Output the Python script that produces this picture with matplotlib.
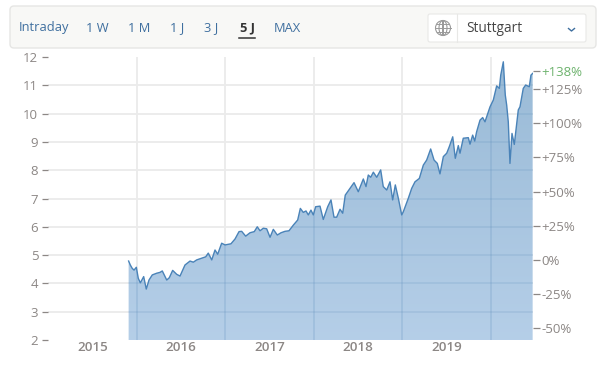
import matplotlib
matplotlib.use('Agg')
import matplotlib.pyplot as plt
import numpy as np
from matplotlib.patches import FancyBboxPatch, Ellipse
from matplotlib.lines import Line2D
from matplotlib.transforms import IdentityTransform

W, H = 599, 379

dates = [2015.91, 2015.929, 2015.951, 2015.971, 2015.997, 2016.019, 2016.042, 2016.08, 2016.109, 2016.14,
         2016.177, 2016.227, 2016.264, 2016.29, 2016.34, 2016.369, 2016.407, 2016.453, 2016.49, 2016.546,
         2016.603, 2016.64, 2016.678, 2016.735, 2016.78, 2016.809, 2016.848, 2016.885, 2016.915, 2016.96,
         2016.998, 2017.065, 2017.111, 2017.156, 2017.186, 2017.231, 2017.28, 2017.328, 2017.362, 2017.393,
         2017.43, 2017.468, 2017.506, 2017.543, 2017.588, 2017.63, 2017.675, 2017.72, 2017.769, 2017.818,
         2017.848, 2017.881, 2017.912, 2017.938, 2017.968, 2017.994, 2018.021, 2018.07, 2018.107, 2018.157,
         2018.194, 2018.228, 2018.258, 2018.296, 2018.326, 2018.355, 2018.409, 2018.454, 2018.502, 2018.559,
         2018.589, 2018.615, 2018.642, 2018.672, 2018.71, 2018.755, 2018.784, 2018.823, 2018.86, 2018.89,
         2018.92, 2018.954, 2018.992, 2019.01, 2019.067, 2019.105, 2019.142, 2019.191, 2019.236, 2019.274,
         2019.319, 2019.357, 2019.394, 2019.424, 2019.462, 2019.5, 2019.529, 2019.568, 2019.597, 2019.631,
         2019.65, 2019.687, 2019.744, 2019.763, 2019.793, 2019.816, 2019.838, 2019.876, 2019.906, 2019.932,
         2019.989, 2020.026, 2020.064, 2020.094, 2020.11, 2020.139, 2020.161, 2020.177, 2020.195, 2020.214,
         2020.237, 2020.263, 2020.308, 2020.327, 2020.364, 2020.391, 2020.432, 2020.451, 2020.47]
prices = [4.79, 4.65, 4.53, 4.47, 4.57, 4.18, 4.02, 4.24, 3.8, 4.12,
          4.3, 4.36, 4.39, 4.44, 4.12, 4.2, 4.46, 4.32, 4.26, 4.65,
          4.79, 4.75, 4.83, 4.89, 4.94, 5.07, 4.83, 5.18, 5.03, 5.42,
          5.36, 5.4, 5.57, 5.83, 5.84, 5.67, 5.79, 5.83, 6.0, 5.86,
          5.95, 5.93, 5.63, 5.91, 5.71, 5.79, 5.84, 5.86, 6.06, 6.24,
          6.65, 6.51, 6.56, 6.42, 6.59, 6.42, 6.71, 6.73, 6.26, 6.71,
          6.95, 6.34, 6.34, 6.62, 6.48, 7.12, 7.36, 7.56, 7.24, 7.69,
          7.42, 7.83, 7.75, 7.93, 7.75, 8.01, 7.42, 7.3, 7.59, 6.95,
          7.48, 7.01, 6.42, 6.53, 7.01, 7.36, 7.59, 7.71, 8.18, 8.36,
          8.75, 8.36, 8.24, 7.87, 8.48, 8.6, 8.83, 9.18, 8.42, 8.87,
          8.6, 9.13, 9.15, 8.92, 9.24, 9.03, 9.36, 9.77, 9.86, 9.71,
          10.24, 10.48, 10.98, 10.89, 11.36, 11.83, 10.66, 10.3, 9.71, 8.24,
          9.3, 8.91, 10.13, 10.24, 10.89, 11.01, 10.95, 11.36, 11.42]

y_ticks = [2, 3, 4, 5, 6, 7, 8, 9, 10, 11, 12]
grid_years = [2016, 2017, 2018, 2019, 2020]
year_labels = ['2015', '2016', '2017', '2018', '2019']
pct_ticks = [-50, -25, 0, 25, 50, 75, 100, 125]
last_pct = 138
base_price = 4.83
buttons = ['Intraday', '1 W', '1 M', '1 J', '3 J', '5 J', 'MAX']
exchange = 'Stuttgart'

GRAY = '#8c8785'
GRID = '#ebebeb'
BLUE_TEXT = '#3f6f9f'
plt.rcParams['font.family'] = ['Open Sans', 'DejaVu Sans']


def px(x, y):
    # pixel position to figure fraction
    return x / W, 1 - y / H


def add_toolbar(fig):
    ident = IdentityTransform()
    bar = FancyBboxPatch((10, H - 48), 586, 42, boxstyle='round,pad=0,rounding_size=4',
                         facecolor='#f8f8f6', edgecolor='#e6e6e4', lw=1.0, transform=ident)
    fig.add_artist(bar)

    box = FancyBboxPatch((428, H - 42), 158, 28, boxstyle='round,pad=0,rounding_size=2',
                         facecolor='white', edgecolor='#e8e8e6', lw=0.8, transform=ident)
    fig.add_artist(box)
    fig.add_artist(Line2D([457 / W, 457 / W], [1 - 14 / H, 1 - 42 / H], color='#e8e8e6', lw=0.8))

    # button labels
    centers = [43.5, 97, 139, 177.5, 211.5, 247, 287]
    for name, cx in zip(buttons, centers):
        selected = name == '5 J'
        fig.text(*px(cx, 28), name, ha='center', va='center', fontsize=9.3,
                 color='#333333' if selected else BLUE_TEXT,
                 fontweight='bold' if selected else 'normal')
    fig.add_artist(Line2D([239 / W, 255 / W], [1 - 38 / H, 1 - 38 / H], color='#333333', lw=1.1))

    # globe icon
    cy = H - 28
    for w in (15, 8, 0.5):
        fig.add_artist(Ellipse((443, cy), w, 15, facecolor='none', edgecolor='#9a9a9a', lw=0.8, transform=ident))
    for off in (-4, 0, 4):
        half = np.sqrt(7.5 ** 2 - off ** 2)
        fig.add_artist(Line2D([(443 - half) / W, (443 + half) / W], [(cy + off) / H, (cy + off) / H],
                              color='#9a9a9a', lw=0.7))

    fig.text(*px(466, 28), exchange, ha='left', va='center', fontsize=9.8, color='#444444')
    fig.add_artist(Line2D([568.5 / W, 571.5 / W, 574.5 / W], [1 - 28.5 / H, 1 - 31 / H, 1 - 28.5 / H],
                          color=BLUE_TEXT, lw=1.0))


def main():
    fig = plt.figure(figsize=(W / 100, H / 100), dpi=100)
    ax = fig.add_axes([48 / W, 1 - 340 / H, 485 / W, 283 / H])
    ax.set_xlim(2015, 2020.474)
    ax.set_ylim(2, 12)
    for s in ax.spines.values():
        s.set_visible(False)

    # grid behind the area
    ax.set_yticks(y_ticks)
    ax.set_xticks(grid_years)
    ax.set_xticklabels([])
    ax.grid(True, color=GRID, lw=1.3, zorder=0)
    ax.set_axisbelow(True)
    ygrid = ax.get_ygridlines()
    ygrid[0].set_visible(False)
    ygrid[-1].set_visible(False)
    ax.tick_params(axis='x', which='major', length=0)
    ax.tick_params(axis='y', length=4, width=0.9, color=GRAY, labelcolor=GRAY, labelsize=9.5, pad=3)

    # year labels sit in the middle of each year
    ax.set_xticks([int(y) + 0.5 for y in year_labels], minor=True)
    ax.set_xticklabels(year_labels, minor=True, fontsize=9.6, fontweight='semibold', color=GRAY)
    ax.tick_params(axis='x', which='minor', length=0, pad=0.5)

    # area with vertical gradient, clipped to the price curve
    area = ax.fill_between(dates, prices, 2, facecolor='none', edgecolor='none', zorder=2)
    gradient = np.linspace(0, 1, 256).reshape(-1, 1, 1)
    top = np.array([0.60, 0.73, 0.84])
    bottom = np.array([0.71, 0.81, 0.91])
    rgb = top + (bottom - top) * gradient
    img = ax.imshow(rgb, extent=[2015, 2020.474, 2, 12], aspect='auto', origin='upper', zorder=2)
    img.set_clip_path(area.get_paths()[0], transform=ax.transData)

    # grid lines showing through the area
    for v in y_ticks[1:-1]:
        ln = ax.axhline(v, color='#5f8fbc', lw=1.2, alpha=0.2, zorder=3)
        ln.set_clip_path(area.get_paths()[0], transform=ax.transData)
    for v in grid_years:
        ln = ax.axvline(v, color='#5f8fbc', lw=1.2, alpha=0.25, zorder=3)
        ln.set_clip_path(area.get_paths()[0], transform=ax.transData)

    ax.plot(dates, prices, color='#4a83b8', lw=1.0, zorder=4)

    # percent axis on the right
    sec = ax.secondary_yaxis('right', functions=(lambda v: (v / base_price - 1) * 100,
                                                 lambda p: (p / 100 + 1) * base_price))
    sec.spines['right'].set_visible(False)
    sec.set_yticks(pct_ticks + [last_pct])
    sec.set_yticklabels([f'+{p}%' if p > 0 else f'{p}%' for p in pct_ticks] + [f'+{last_pct}%'])
    sec.tick_params(axis='y', length=5, width=0.9, color=GRAY, labelcolor=GRAY, labelsize=9.5, pad=1)
    sec.get_yticklabels()[-1].set_color('#6cb26c')

    add_toolbar(fig)
    fig.savefig('out.png', dpi=100, facecolor='white')


if __name__ == '__main__':
    main()
